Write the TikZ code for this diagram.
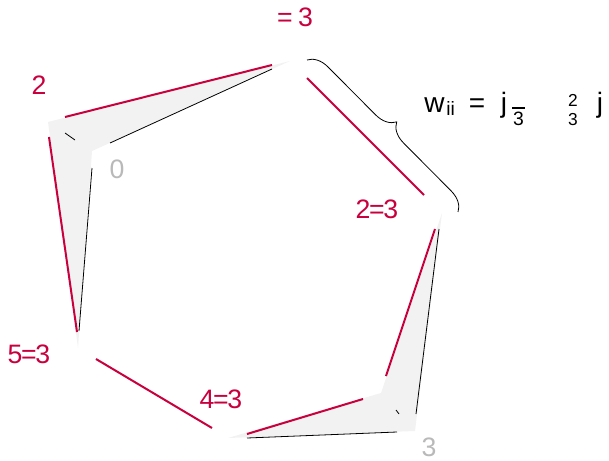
\documentclass[tikz,border=0pt]{standalone}
\usepackage{fontspec}
\setmainfont{Liberation Sans}
\usetikzlibrary{decorations.pathreplacing}
\definecolor{crim}{RGB}{200,0,62}
\definecolor{wedgegray}{RGB}{242,242,242}
\definecolor{lgray}{RGB}{185,185,185}
\tikzset{
  redline/.style={draw=crim,line width=1.5pt},
  thinline/.style={draw=black,line width=0.6pt},
  wedgefill/.style={fill=wedgegray,draw=none},
  redlab/.style={text=crim,font=\fontsize{20}{22}\selectfont,inner sep=0pt,anchor=base},
  graylab/.style={text=lgray,font=\fontsize{20}{22}\selectfont,inner sep=0pt,anchor=base},
  mathbig/.style={font=\fontsize{21}{23}\selectfont,inner sep=0pt,anchor=base},
  mathsmall/.style={font=\fontsize{14.5}{16}\selectfont,inner sep=0pt,anchor=base},
  fracdigit/.style={font=\fontsize{13}{14}\selectfont,inner sep=0pt,anchor=base},
}
\begin{document}
\begin{tikzpicture}[x=0.75pt,y=-0.75pt]
\useasboundingbox (0,0) rectangle (609,460);
% wedge shapes
\coordinate (a1) at (290,61);
\coordinate (a2) at (48,122);
\coordinate (a3) at (78,348);
\coordinate (a4) at (92,151);
\path[wedgefill] (a1) -- (a2) -- (a3) -- (a4) -- cycle;
\coordinate (b1) at (442,213);
\coordinate (b2) at (415,431);
\coordinate (b3) at (228,438);
\coordinate (b4) at (381,393);
\path[wedgefill] (b1) -- (b2) -- (b3) -- (b4) -- cycle;
% red segments
\coordinate (r1a) at (65,117); \coordinate (r1b) at (272,65);
\coordinate (r2a) at (49,137); \coordinate (r2b) at (77,332);
\coordinate (r3a) at (307,78); \coordinate (r3b) at (424,195);
\coordinate (r4a) at (386,376); \coordinate (r4b) at (435,229);
\coordinate (r5a) at (247,434); \coordinate (r5b) at (363,399);
\coordinate (r6a) at (96,359); \coordinate (r6b) at (212,428);
\draw[redline] (r1a) -- (r1b);
\draw[redline] (r2a) -- (r2b);
\draw[redline] (r3a) -- (r3b);
\draw[redline] (r4a) -- (r4b);
\draw[redline] (r5a) -- (r5b);
\draw[redline] (r6a) -- (r6b);
% black thin segments
\coordinate (k1a) at (110,143); \coordinate (k1b) at (272,69);
\coordinate (k2a) at (65,133); \coordinate (k2b) at (75,140);
\coordinate (k3a) at (92,168); \coordinate (k3b) at (79,331);
\coordinate (k4a) at (416,414); \coordinate (k4b) at (439,229);
\coordinate (k5a) at (396,410); \coordinate (k5b) at (399,414);
\coordinate (k6a) at (247,438); \coordinate (k6b) at (397,432);
\draw[thinline] (k1a) -- (k1b);
\draw[thinline] (k2a) -- (k2b);
\draw[thinline] (k3a) -- (k3b);
\draw[thinline] (k4a) -- (k4b);
\draw[thinline] (k5a) -- (k5b);
\draw[thinline] (k6a) -- (k6b);
% brace
\coordinate (bs) at (307,60);
\coordinate (be) at (458,212);
\draw[thinline,decorate,decoration={brace,amplitude=15pt}] (bs) -- (be);
% labels
\node[redlab] (l1) at (295,27) {=\kern4pt3};
\node[redlab] (l2) at (39,94) {2};
\node[graylab] (l3) at (117,178) {0};
\node[redlab] (l4) at (377,218) {2\kern-1pt=\kern-1pt3};
\node[redlab] (l5) at (29,363) {5\kern-1pt=\kern-1pt3};
\node[redlab] (l6) at (221,408) {4\kern-1pt=\kern-1pt3};
\node[graylab] (l7) at (429,456) {3};
% formula
\node[mathbig,anchor=base west] (fw) at (424,112) {w};
\node[mathsmall,anchor=base west] (fii) at (446,115) {ii};
\node[mathbig] (feq) at (477,112) {=};
\node[mathbig] (fj1) at (504,112) {j};
\node[mathsmall] (f3a) at (518.5,125) {3};
\coordinate (ob1) at (512,108); \coordinate (ob2) at (525,108);
\draw[line width=0.8pt] (ob1) -- (ob2);
\node[fracdigit] (f2) at (573,106) {2};
\node[fracdigit] (f3b) at (573,125) {3};
\node[mathbig] (fj2) at (600,112) {j};
\end{tikzpicture}
\end{document}
